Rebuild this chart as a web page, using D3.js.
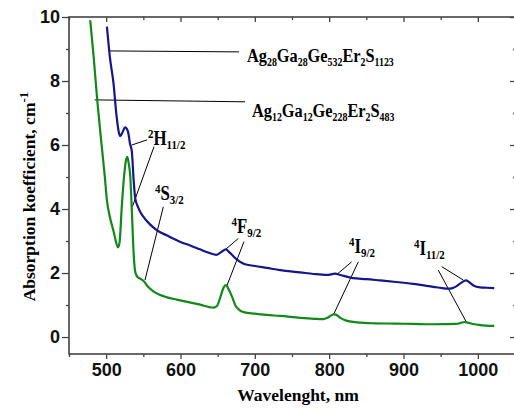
<!DOCTYPE html>
<html>
<head>
<meta charset="utf-8">
<script src="https://cdn.jsdelivr.net/npm/d3@7"></script>
<style>
  html, body { margin: 0; padding: 0; background: #fff; }
  svg { display: block; font-family: "Liberation Serif", "Times New Roman", serif; font-weight: bold; }
</style>
</head>
<body>
<div id="chart"></div>
<script>
// wavelength (nm) / absorption (cm^-1)
const blueWave = [501, 505, 510, 514, 517, 519, 522, 525.5, 528, 530, 532, 534.5, 537, 539, 543, 550, 559, 568, 582, 600, 613, 626, 636, 648, 655, 661, 667, 676, 685, 700, 716, 734, 761, 779, 797, 808, 815, 832, 850, 868, 890, 913, 940, 952, 960, 966, 972, 978, 984, 988, 994, 1003, 1012, 1022];
const blueAbs = [9.70, 8.75, 7.90, 6.90, 6.40, 6.28, 6.40, 6.55, 6.50, 6.35, 6.05, 5.80, 4.90, 4.35, 4.05, 3.76, 3.52, 3.34, 3.17, 2.97, 2.86, 2.74, 2.65, 2.57, 2.66, 2.74, 2.62, 2.42, 2.29, 2.22, 2.16, 2.09, 2.02, 1.97, 1.94, 1.98, 1.94, 1.84, 1.81, 1.77, 1.72, 1.66, 1.57, 1.53, 1.51, 1.53, 1.60, 1.70, 1.77, 1.72, 1.61, 1.55, 1.54, 1.53];

const greenWave = [478.5, 483, 488, 493, 498, 501, 505, 510, 513.5, 516, 518, 521, 524, 526.5, 528.5, 530.5, 532.5, 534.5, 537, 539, 542, 546, 550, 556, 564, 572, 582, 595, 609, 625, 644, 649, 655, 658, 661, 665, 669, 674, 679, 685, 700, 716, 734, 761, 780, 792, 799, 806, 809, 815, 822, 837, 860, 890, 913, 940, 971, 977, 982, 988, 995, 1003, 1022];
const greenAbs = [9.90, 8.80, 7.40, 6.20, 5.05, 4.28, 3.75, 3.30, 2.95, 2.80, 2.95, 4.07, 5.00, 5.50, 5.63, 5.40, 5.00, 3.97, 2.60, 2.05, 1.88, 1.82, 1.76, 1.58, 1.42, 1.32, 1.24, 1.17, 1.10, 1.02, 0.92, 0.97, 1.35, 1.55, 1.62, 1.48, 1.28, 0.98, 0.85, 0.78, 0.73, 0.69, 0.66, 0.60, 0.57, 0.56, 0.62, 0.71, 0.70, 0.60, 0.52, 0.46, 0.43, 0.42, 0.41, 0.40, 0.41, 0.44, 0.47, 0.44, 0.40, 0.375, 0.35];

const xMajor = [500, 600, 700, 800, 900, 1000];
const xMinor = [450, 550, 650, 750, 850, 950, 1050];
const yMajor = [0, 2, 4, 6, 8, 10];
const yMinor = [1, 3, 5, 7, 9];

// compound labels: [text, isSubscript]
const blueName = [["Ag", 0], ["28", 1], ["Ga", 0], ["28", 1], ["Ge", 0], ["532", 1], ["Er", 0], ["2", 1], ["S", 0], ["1123", 1]];
const greenName = [["Ag", 0], ["12", 1], ["Ga", 0], ["12", 1], ["Ge", 0], ["228", 1], ["Er", 0], ["2", 1], ["S", 0], ["483", 1]];

// name labels: text position and leader line (data units)
const nameLabels = [
  { parts: blueName, at: [689.5, 8.59], from: [505.2, 8.94], to: [678.7, 8.91] },
  { parts: greenName, at: [696.2, 6.875], from: [484.6, 7.41], to: [686.8, 7.35] },
];

// Er3+ transitions: [sup, letter, sub], label position, leader lines
const levels = [
  { sup: "2", main: "H", sub: "11/2", at: [556.3, 6.0], leaders: [[[555, 6.16], [534.4, 6.0]], [[564.4, 5.95], [535.2, 4.07]]] },
  { sup: "4", main: "S", sub: "3/2", at: [565.7, 4.28], leaders: [[[576.9, 4.07], [552.2, 1.78]]] },
  { sup: "4", main: "F", sub: "9/2", at: [668.6, 3.26], leaders: [[[677.8, 3.08], [661.2, 2.75]], [[685.4, 2.98], [662.2, 1.59]]] },
  { sup: "4", main: "I", sub: "9/2", at: [826.7, 2.62], leaders: [[[830.3, 2.35], [811, 1.97]], [[839.2, 2.35], [805.6, 0.69]]] },
  { sup: "4", main: "I", sub: "11/2", at: [914.1, 2.56], leaders: [[[951.4, 2.20], [980.5, 1.78]], [[946.8, 2.09], [985, 0.45]]] },
];

const width = 514;
const height = 410;
const plot = { left: 69, right: 515, top: 17, bottom: 354 };

const svg = d3.select("#chart").append("svg")
  .attr("width", width)
  .attr("height", height);

const x = d3.scaleLinear().domain([450, 1050]).range([plot.left, plot.right]);
const y = d3.scaleLinear().domain([-0.53, 10]).range([plot.bottom, plot.top]);

const axisColor = "#444";

function styleAxis(g, size) {
  g.select(".domain").remove();
  g.selectAll(".tick line").attr("stroke", axisColor).attr("stroke-width", 1.3);
  g.selectAll(".tick text").attr("fill", "#111").attr("font-size", size);
}

// bottom (outward, labelled)
svg.append("g").attr("transform", `translate(0,${plot.bottom})`)
  .call(d3.axisBottom(x).tickValues(xMajor).tickSize(5).tickPadding(4).tickFormat(d3.format("d")))
  .call((g) => styleAxis(g, 18));
svg.append("g").attr("transform", `translate(0,${plot.bottom})`)
  .call(d3.axisBottom(x).tickValues(xMinor).tickSize(3).tickFormat(""))
  .call((g) => styleAxis(g, 0));

// top (inward)
svg.append("g").attr("transform", `translate(0,${plot.top})`)
  .call(d3.axisBottom(x).tickValues(xMajor).tickSize(5).tickFormat(""))
  .call((g) => styleAxis(g, 0));
svg.append("g").attr("transform", `translate(0,${plot.top})`)
  .call(d3.axisBottom(x).tickValues(xMinor).tickSize(3).tickFormat(""))
  .call((g) => styleAxis(g, 0));

// left (outward, labelled)
svg.append("g").attr("transform", `translate(${plot.left},0)`)
  .call(d3.axisLeft(y).tickValues(yMajor).tickSize(7).tickPadding(2).tickFormat(d3.format("d")))
  .call((g) => styleAxis(g, 18));
svg.append("g").attr("transform", `translate(${plot.left},0)`)
  .call(d3.axisLeft(y).tickValues(yMinor).tickSize(3).tickFormat(""))
  .call((g) => styleAxis(g, 0));

// right (inward)
svg.append("g").attr("transform", `translate(${plot.right},0)`)
  .call(d3.axisLeft(y).tickValues(yMajor).tickSize(5).tickFormat(""))
  .call((g) => styleAxis(g, 0));
svg.append("g").attr("transform", `translate(${plot.right},0)`)
  .call(d3.axisLeft(y).tickValues(yMinor).tickSize(2).tickFormat(""))
  .call((g) => styleAxis(g, 0));

// frame
svg.append("rect")
  .attr("x", plot.left).attr("y", plot.top)
  .attr("width", plot.right - plot.left).attr("height", plot.bottom - plot.top)
  .attr("fill", "none").attr("stroke", axisColor).attr("stroke-width", 1.6);

// leader lines
const leader = (a, b) => svg.append("line")
  .attr("x1", x(a[0])).attr("y1", y(a[1]))
  .attr("x2", x(b[0])).attr("y2", y(b[1]))
  .attr("stroke", "#000").attr("stroke-width", 1);

nameLabels.forEach((d) => leader(d.from, d.to));
levels.forEach((d) => d.leaders.forEach(([a, b]) => leader(a, b)));

// spectra
const line = d3.line()
  .x((d) => x(d[0]))
  .y((d) => y(d[1]))
  .curve(d3.curveMonotoneX);

const series = [
  { wave: greenWave, abs: greenAbs, color: "#11891a" },
  { wave: blueWave, abs: blueAbs, color: "#15158c" },
];

series.forEach((s) => {
  svg.append("path")
    .datum(d3.zip(s.wave, s.abs))
    .attr("fill", "none")
    .attr("stroke", s.color)
    .attr("stroke-width", 2.2)
    .attr("stroke-linejoin", "round")
    .attr("d", line);
});

// compound names (narrow, like the original typeface)
nameLabels.forEach((d) => {
  const t = svg.append("text")
    .attr("transform", `translate(${x(d.at[0])},${y(d.at[1])}) scale(0.86,1)`)
    .attr("fill", "#000");
  let shifted = false;
  d.parts.forEach(([txt, sub]) => {
    const dy = sub && !shifted ? 4 : (!sub && shifted ? -4 : 0);
    shifted = !!sub;
    t.append("tspan").attr("dy", dy).attr("font-size", sub ? 11.5 : 19).text(txt);
  });
});

// transition labels
levels.forEach((d) => {
  const t = svg.append("text")
    .attr("transform", `translate(${x(d.at[0])},${y(d.at[1])}) scale(0.84,1)`)
    .attr("fill", "#000");
  t.append("tspan").attr("dy", -7).attr("font-size", 13).text(d.sup);
  t.append("tspan").attr("dy", 7).attr("font-size", 20).text(d.main);
  t.append("tspan").attr("dy", 4).attr("font-size", 13).text(d.sub);
});

// axis titles
svg.append("text")
  .attr("x", (plot.left + plot.right) / 2 + 6).attr("y", 401)
  .attr("text-anchor", "middle")
  .attr("font-size", 17.5)
  .text("Wavelenght, nm");

const yt = svg.append("text")
  .attr("transform", `translate(35,${(plot.top + plot.bottom) / 2 + 11}) rotate(-90)`)
  .attr("text-anchor", "middle")
  .attr("font-size", 17.5);
yt.append("tspan").text("Absorption koefficient, cm");
yt.append("tspan").attr("dy", -7).attr("font-size", 13).text("-1");
</script>
</body>
</html>
